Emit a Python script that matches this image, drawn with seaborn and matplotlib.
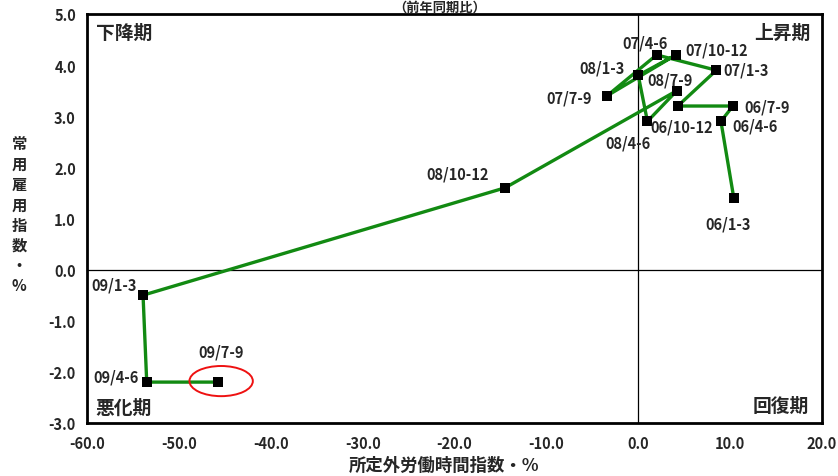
import matplotlib
matplotlib.use("Agg")
import matplotlib.pyplot as plt
from matplotlib.patches import Ellipse
import seaborn as sns
import pandas as pd

# 四半期ごとの前年同期比（所定外労働時間指数, 常用雇用指数）
periods = ["06/1-3", "06/4-6", "06/7-9", "06/10-12",
           "07/1-3", "07/4-6", "07/7-9", "07/10-12",
           "08/1-3", "08/4-6", "08/7-9", "08/10-12",
           "09/1-3", "09/4-6", "09/7-9"]
overtime = [10.4, 9.0, 10.3, 4.3,
            8.5, 2.0, -3.4, 4.1,
            0.0, 1.0, 4.2, -14.5,
            -53.9, -53.5, -45.7]
employment = [1.4, 2.9, 3.2, 3.2,
              3.9, 4.2, 3.4, 4.2,
              3.8, 2.9, 3.5, 1.6,
              -0.5, -2.2, -2.2]

x_ticks = [-60, -50, -40, -30, -20, -10, 0, 10, 20]
y_ticks = [-3, -2, -1, 0, 1, 2, 3, 4, 5]

# ラベルの位置（点からのずれ, ポイント）と揃え
label_offsets = {
    "06/1-3": (-4, -18, "center"),
    "06/4-6": (8.5, -3, "left"),
    "06/7-9": (8.5, 0, "left"),
    "06/10-12": (3, -14.5, "center"),
    "07/1-3": (5, 0.5, "left"),
    "07/4-6": (-8, 8.6, "center"),
    "07/10-12": (6.5, 3.6, "left"),
    "08/1-3": (-10, 5.8, "right"),
    "07/7-9": (-11, -1.4, "right"),
    "08/7-9": (-5, 8, "center"),
    "08/4-6": (-14, -15, "center"),
    "08/10-12": (-34, 10, "center"),
    "09/1-3": (-21, 8, "center"),
    "09/4-6": (-22, 4.3, "center"),
    "09/7-9": (2, 22, "center"),
}

df = pd.DataFrame({"period": periods, "overtime": overtime, "employment": employment})

sns.set_style("white")
plt.rcParams["font.family"] = ["Noto Sans CJK JP", "DejaVu Sans"]
plt.rcParams["font.weight"] = "bold"

fig = plt.figure(figsize=(8.38, 4.77), dpi=100)
pos = [87 / 838, 1 - 424 / 477, (822 - 87) / 838, (424 - 15) / 477]
ax = fig.add_axes(pos)

sns.lineplot(data=df, x="overtime", y="employment", sort=False,
             color="#128a12", linewidth=2.4, ax=ax, zorder=2)
sns.scatterplot(data=df, x="overtime", y="employment", marker="s",
                s=45, color="black", edgecolor="black", linewidth=0,
                ax=ax, zorder=3)

for p, xv, yv in zip(periods, overtime, employment):
    dx, dy, ha = label_offsets[p]
    ax.annotate(p, (xv, yv), xytext=(dx, dy), textcoords="offset points",
                ha=ha, va="center", fontsize=10.5, fontweight="bold")

# 最新期を囲む赤い楕円
ax.add_patch(Ellipse((overtime[-1] + 0.3, employment[-1] + 0.02), 6.9, 0.59,
                     fill=False, edgecolor="#ee1111", linewidth=1.4, zorder=4))

ax.set_xlim(x_ticks[0], x_ticks[-1])
ax.set_ylim(y_ticks[0], y_ticks[-1])
ax.set_xticks(x_ticks)
ax.set_yticks(y_ticks)
ax.set_xticklabels([f"{v:.1f}" for v in x_ticks])
ax.set_yticklabels([f"{v:.1f}" for v in y_ticks])
ax.tick_params(axis="both", length=0, labelsize=10.5)
ax.tick_params(axis="y", pad=8)
ax.tick_params(axis="x", pad=9)
for s in ax.spines.values():
    s.set_visible(True)
    s.set_linewidth(2.0)
    s.set_color("black")
ax.set_xlabel("所定外労働時間指数・%", fontsize=12.5, fontweight="bold", va="center")
ax.xaxis.set_label_coords(0.486, -0.103)
ax.set_ylabel("常\n用\n雇\n用\n指\n数\n・\n%", fontsize=11, fontweight="bold",
              rotation=0, va="center", ha="center", linespacing=1.33)
ax.yaxis.set_label_coords(-0.0925, 0.51)

# 原点を通る軸線（目盛付き）
ax0 = fig.add_axes(pos, sharex=ax, sharey=ax)
ax0.patch.set_visible(False)
ax0.spines["left"].set_position(("data", 0))
ax0.spines["bottom"].set_position(("data", 0))
ax0.spines["top"].set_visible(False)
ax0.spines["right"].set_visible(False)
for k in ("left", "bottom"):
    ax0.spines[k].set_linewidth(0.9)
    ax0.spines[k].set_color("black")
ax0.tick_params(axis="both", direction="in", length=4, width=0.9,
                labelleft=False, labelbottom=False, color="black")
ax0.set_zorder(ax.get_zorder() - 1)
ax.patch.set_visible(False)

# 局面名
qkw = dict(fontsize=13.5, fontweight="bold", transform=ax.transAxes)
ax.text(0.012, 0.956, "下降期", ha="left", va="center", **qkw)
ax.text(0.984, 0.956, "上昇期", ha="right", va="center", **qkw)
ax.text(0.011, 0.039, "悪化期", ha="left", va="center", **qkw)
ax.text(0.982, 0.042, "回復期", ha="right", va="center", **qkw)

fig.text(0.525, 0.999, "（前年同期比）", ha="center", va="top",
         fontsize=9.5, fontweight="bold")

fig.savefig("out.png", dpi=100)
